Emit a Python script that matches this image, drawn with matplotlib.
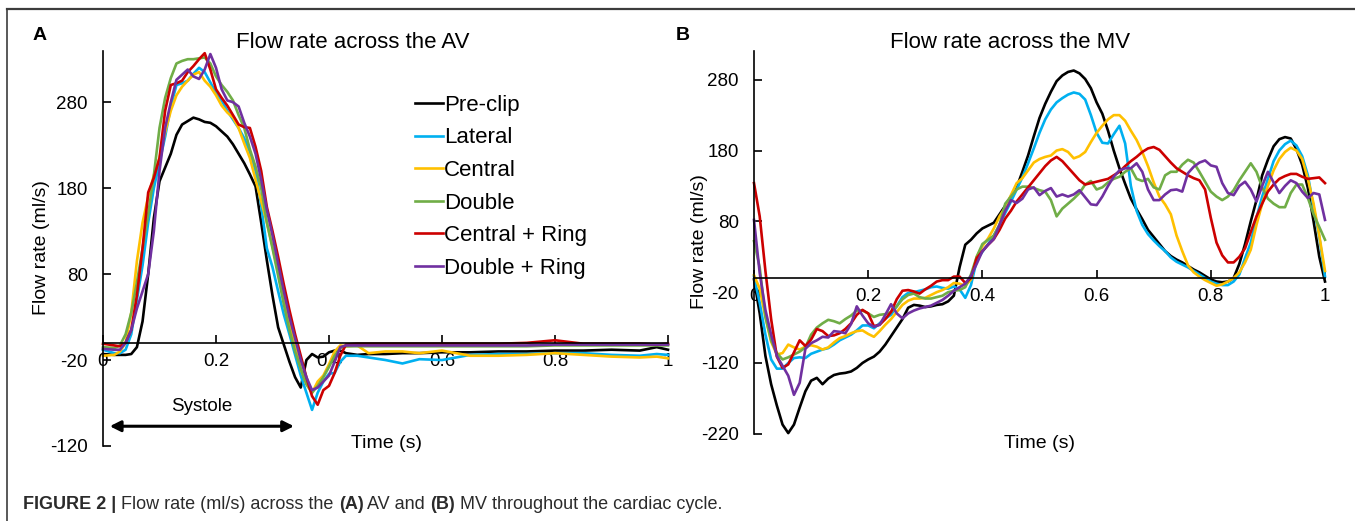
import numpy as np
import matplotlib.pyplot as plt
from matplotlib.lines import Line2D
from matplotlib.text import Annotation

plt.rcParams['font.family'] = ['Liberation Sans', 'DejaVu Sans']
plt.rcParams['axes.unicode_minus'] = False

series_names = ['Pre-clip', 'Lateral', 'Central', 'Double', 'Central + Ring', 'Double + Ring']
series_colors = ['#000000', '#00B0F0', '#FFC000', '#70AD47', '#CC0000', '#7030A0']

# ---- aortic valve flow (ml/s) ----
t_av = [0.00, 0.02, 0.03, 0.04, 0.05, 0.06, 0.07, 0.08, 0.09, 0.10,
        0.11, 0.12, 0.13, 0.14, 0.15, 0.16, 0.17, 0.18, 0.19, 0.20,
        0.21, 0.22, 0.23, 0.24, 0.25, 0.26, 0.27, 0.28, 0.29, 0.30,
        0.31, 0.32, 0.33, 0.34, 0.35, 0.36, 0.37, 0.38, 0.39, 0.40,
        0.41, 0.42, 0.43, 0.45, 0.47, 0.50, 0.53, 0.56, 0.60, 0.65,
        0.70, 0.75, 0.80, 0.85, 0.90, 0.95, 0.98, 1.00]
av_preclip = [-13, -14, -14, -14, -13, -5, 25, 80, 145, 188,
              204, 220, 242, 254, 258, 262, 260, 257, 256, 252,
              246, 240, 231, 220, 209, 196, 182, 140, 96, 55,
              18, -2, -22, -40, -52, -20, -13, -17, -16, -11,
              -9, -9, -12, -14, -13, -13, -12, -12, -11, -11,
              -10, -10, -9, -9, -8, -9, -5, -8]
av_lateral = [-8, -12, -12, -8, 10, 50, 90, 140, 180, 210,
              240, 275, 300, 302, 305, 313, 320, 315, 303, 291,
              282, 270, 260, 250, 238, 222, 200, 160, 110, 88,
              60, 33, 10, -14, -38, -58, -78, -58, -45, -36,
              -35, -22, -15, -15, -17, -20, -24, -19, -20, -14,
              -13, -13, -12, -12, -14, -15, -13, -14]
av_central = [-15, -14, -10, 0, 35, 95, 140, 170, 195, 215,
              245, 270, 288, 298, 305, 312, 315, 305, 298, 288,
              276, 268, 262, 250, 232, 215, 190, 165, 140, 112,
              82, 52, 22, -5, -30, -48, -58, -45, -38, -25,
              -10, -3, -4, -3, -12, -10, -10, -12, -9, -15,
              -15, -14, -12, -14, -16, -17, -16, -18]
av_double = [-5, -6, -3, 10, 35, 70, 110, 150, 195, 250,
             285, 308, 325, 328, 330, 330, 331, 332, 325, 310,
             300, 292, 282, 265, 250, 225, 205, 180, 140, 110,
             78, 45, 15, -10, -30, -48, -58, -50, -40, -28,
             -15, -6, -4, -4, -4, -4, -4, -4, -4, -4,
             -4, -4, -3, -3, -3, -3, -3, -3]
av_central_ring = [-1, -3, -4, 0, 15, 55, 110, 175, 192, 215,
                   270, 300, 302, 305, 315, 322, 330, 337, 318, 295,
                   285, 276, 265, 254, 251, 250, 228, 200, 158, 130,
                   100, 68, 38, 10, -15, -40, -62, -72, -55, -50,
                   -35, -15, -2, -1, -1, -1, -1, -1, -1, -1,
                   -1, 0, 3, -1, -1, -1, -2, -1]
av_double_ring = [-7, -8, -8, 0, 15, 40, 60, 80, 130, 200,
                  250, 280, 306, 312, 318, 310, 307, 318, 336, 320,
                  295, 282, 280, 275, 256, 240, 220, 190, 155, 125,
                  92, 60, 30, 5, -20, -40, -55, -52, -45, -38,
                  -22, -5, -3, -3, -3, -3, -3, -3, -3, -3,
                  -3, -3, -2, -2, -2, -2, -2, -2]

# ---- mitral valve flow (ml/s), sampled every 10 ms ----
t_mv = np.linspace(0, 1, 101)
mv_preclip = [-2, -50, -110, -150, -180, -207, -219, -207, -183, -160,
              -145, -141, -150, -142, -137, -135, -134, -132, -127, -120,
              -115, -111, -104, -94, -82, -70, -58, -42, -38, -39,
              -41, -40, -38, -37, -33, -25, 15, 47, 54, 63,
              70, 74, 78, 90, 102, 115, 128, 150, 173, 200,
              226, 246, 263, 278, 286, 291, 293, 289, 281, 268,
              248, 232, 208, 180, 155, 133, 112, 97, 83, 68,
              58, 48, 38, 31, 26, 22, 17, 12, 8, 3,
              -2, -5, -6, -5, 0, 20, 48, 80, 110, 145,
              167, 186, 196, 199, 197, 182, 160, 127, 80, 30,
              -5]
mv_lateral = [2, -35, -80, -115, -128, -128, -120, -113, -112, -113,
              -107, -104, -101, -99, -94, -88, -84, -80, -74, -67,
              -67, -71, -64, -57, -52, -40, -27, -21, -20, -18,
              -16, -13, -12, -14, -15, -12, -16, -28, -10, 25,
              37, 48, 60, 75, 92, 108, 125, 142, 162, 183,
              205, 224, 238, 248, 254, 259, 262, 260, 252, 230,
              205, 191, 190, 203, 215, 190, 130, 95, 75, 62,
              53, 45, 38, 29, 23, 19, 15, 10, 5, 0,
              -5, -8, -10, -10, -5, 5, 28, 50, 85, 115,
              140, 165, 180, 189, 194, 187, 172, 145, 100, 58,
              2]
mv_central = [4, -15, -55, -90, -108, -106, -94, -98, -101, -97,
              -95, -97, -101, -98, -91, -85, -82, -78, -75, -74,
              -79, -83, -75, -66, -58, -48, -38, -32, -29, -29,
              -28, -24, -20, -17, -13, -7, -8, -11, -2, 30,
              45, 56, 70, 87, 100, 117, 134, 141, 152, 163,
              168, 171, 173, 180, 182, 178, 169, 172, 178, 192,
              205, 215, 224, 230, 230, 222, 208, 195, 178, 158,
              135, 115, 104, 90, 60, 38, 18, 8, 2, -3,
              -7, -11, -9, -5, 0, 8, 22, 40, 75, 105,
              130, 152, 168, 178, 184, 180, 168, 140, 105, 60,
              10]
mv_double = [52, 15, -55, -88, -106, -115, -112, -108, -104, -98,
             -80, -70, -64, -59, -61, -64, -58, -53, -46, -46,
             -50, -55, -52, -51, -48, -40, -30, -24, -22, -27,
             -29, -29, -27, -25, -20, -18, -17, -13, 5, 30,
             48, 54, 60, 75, 105, 115, 125, 129, 129, 127,
             124, 122, 110, 87, 98, 105, 112, 120, 132, 137,
             125, 128, 135, 140, 143, 150, 155, 140, 137, 140,
             128, 125, 145, 150, 150, 160, 167, 163, 150, 136,
             122, 115, 110, 115, 124, 138, 150, 162, 150, 128,
             112, 105, 100, 100, 120, 132, 132, 113, 90, 72,
             54]
mv_central_ring = [134, 87, 10, -58, -111, -127, -122, -105, -88, -96,
                   -87, -72, -75, -82, -81, -78, -72, -64, -52, -45,
                   -50, -68, -66, -58, -48, -30, -18, -17, -19, -22,
                   -16, -11, -5, -3, -3, 2, 2, -7, 0, 28,
                   38, 47, 55, 68, 84, 95, 108, 118, 128, 138,
                   148, 158, 166, 171, 165, 156, 147, 138, 132, 134,
                   136, 138, 140, 145, 150, 158, 165, 171, 178, 183,
                   185, 181, 172, 163, 155, 150, 145, 141, 138, 125,
                   85, 50, 32, 22, 22, 30, 42, 65, 87, 105,
                   122, 132, 140, 144, 147, 147, 143, 140, 141, 142,
                   134]
mv_double_ring = [82, 7, -45, -80, -110, -124, -138, -165, -148, -100,
                  -92, -88, -83, -84, -75, -76, -78, -65, -40, -53,
                  -64, -69, -66, -52, -37, -50, -57, -50, -46, -43,
                  -41, -39, -35, -31, -25, -18, -13, -8, 3, 20,
                  38, 47, 55, 75, 95, 110, 106, 112, 125, 128,
                  117, 123, 127, 115, 118, 115, 118, 124, 114, 104,
                  103, 115, 130, 143, 152, 155, 155, 162, 150, 125,
                  110, 110, 118, 124, 125, 122, 148, 157, 163, 166,
                  159, 157, 134, 120, 117, 130, 136, 125, 108, 130,
                  150, 135, 120, 130, 138, 134, 122, 113, 120, 118,
                  82]

av_series = [av_preclip, av_lateral, av_central, av_double, av_central_ring, av_double_ring]
mv_series = [mv_preclip, mv_lateral, mv_central, mv_double, mv_central_ring, mv_double_ring]

x_ticks = [0, 0.2, 0.4, 0.6, 0.8, 1]
x_tick_labels = ['0', '0.2', '0.4', '0.6', '0.8', '1']
av_yticks = [-120, -20, 80, 180, 280]
mv_yticks = [-220, -120, -20, 80, 180, 280]

W, H = 1355, 521
fig = plt.figure(figsize=(W / 100, H / 100), dpi=100)
ax_a = fig.add_axes([103 / W, 1 - 446 / H, 565 / W, 395.4 / H])
ax_b = fig.add_axes([754 / W, 1 - 433.8 / H, 571 / W, 382.4 / H])


def style_axis(ax, ylim, yticks):
    ax.set_xlim(0, 1)
    ax.set_ylim(*ylim)
    ax.spines['top'].set_visible(False)
    ax.spines['right'].set_visible(False)
    ax.spines['bottom'].set_position(('data', 0))
    ax.spines['bottom'].set_linewidth(1.2)
    ax.spines['left'].set_linewidth(1.2)
    ax.set_xticks(x_ticks)
    ax.set_xticklabels(x_tick_labels)
    ax.set_yticks(yticks)
    ax.tick_params(direction='in', length=6, width=1.2, labelsize=13.5)
    ax.tick_params(axis='x', pad=7)
    ax.tick_params(axis='y', pad=11)


for vals, name, col in zip(av_series, series_names, series_colors):
    ax_a.plot(t_av, vals, color=col, lw=1.9, label=name, clip_on=False)
for vals, name, col in zip(mv_series, series_names, series_colors):
    ax_b.plot(t_mv, vals, color=col, lw=1.9, label=name, clip_on=False)

style_axis(ax_a, (-120, 340), av_yticks)
style_axis(ax_b, (-220, 320), mv_yticks)

ax_a.legend(loc='upper left', bbox_to_anchor=(0.552, 0.888), frameon=False,
            fontsize=16, handlelength=1.25, handletextpad=0.05,
            labelspacing=0.52, borderpad=0, borderaxespad=0)

# systole duration arrow
ax_a.annotate('', xy=(0.012, -97), xytext=(0.338, -97),
              arrowprops=dict(arrowstyle='<|-|>', color='black', lw=2.2,
                              mutation_scale=16, shrinkA=0, shrinkB=0))
ax_a.text(0.175, -74, 'Systole', ha='center', va='center', fontsize=13.5)

# titles, axis labels, panel letters
fig.text(353 / W, 1 - 43 / H, 'Flow rate across the AV', ha='center', va='center', fontsize=16)
fig.text(1010 / W, 1 - 43 / H, 'Flow rate across the MV', ha='center', va='center', fontsize=16)
fig.text(41 / W, 1 - 248 / H, 'Flow rate (ml/s)', rotation=90, ha='center', va='center', fontsize=14)
fig.text(700 / W, 1 - 242 / H, 'Flow rate (ml/s)', rotation=90, ha='center', va='center', fontsize=14)
fig.text(386 / W, 1 - 443 / H, 'Time (s)', ha='center', va='center', fontsize=14)
fig.text(1040 / W, 1 - 443 / H, 'Time (s)', ha='center', va='center', fontsize=14)
fig.text(33 / W, 1 - 36 / H, 'A', ha='left', va='center', fontsize=14, fontweight='bold')
fig.text(676 / W, 1 - 36 / H, 'B', ha='left', va='center', fontsize=14, fontweight='bold')

# page frame
frame_col = '#3c3c3c'
fig.add_artist(Line2D([7 / W, 1], [1 - 8.5 / H, 1 - 8.5 / H], transform=fig.transFigure,
                      color=frame_col, lw=1.6))
fig.add_artist(Line2D([7 / W, 7 / W], [0, 1 - 8.5 / H], transform=fig.transFigure,
                      color=frame_col, lw=1.2))

# caption, built from bold and regular pieces chained one after another
caption_parts = [('FIGURE 2 | ', 'bold'), ('Flow rate (ml/s) across the ', 'normal'),
                 ('(A)', 'bold'), (' AV and ', 'normal'), ('(B)', 'bold'),
                 (' MV throughout the cardiac cycle.', 'normal')]
cap_kw = dict(fontsize=13, family=['Liberation Sans', 'DejaVu Sans'], color='#2b2b2b')
prev = fig.text(23 / W, 1 - 513 / H, caption_parts[0][0], fontweight=caption_parts[0][1],
                ha='left', va='bottom', **cap_kw)
for txt, wt in caption_parts[1:]:
    piece = Annotation(txt, xy=(1, 0), xycoords=prev, ha='left', va='bottom',
                       fontweight=wt, **cap_kw)
    fig.add_artist(piece)
    prev = piece

fig.savefig('out.png', dpi=100)
